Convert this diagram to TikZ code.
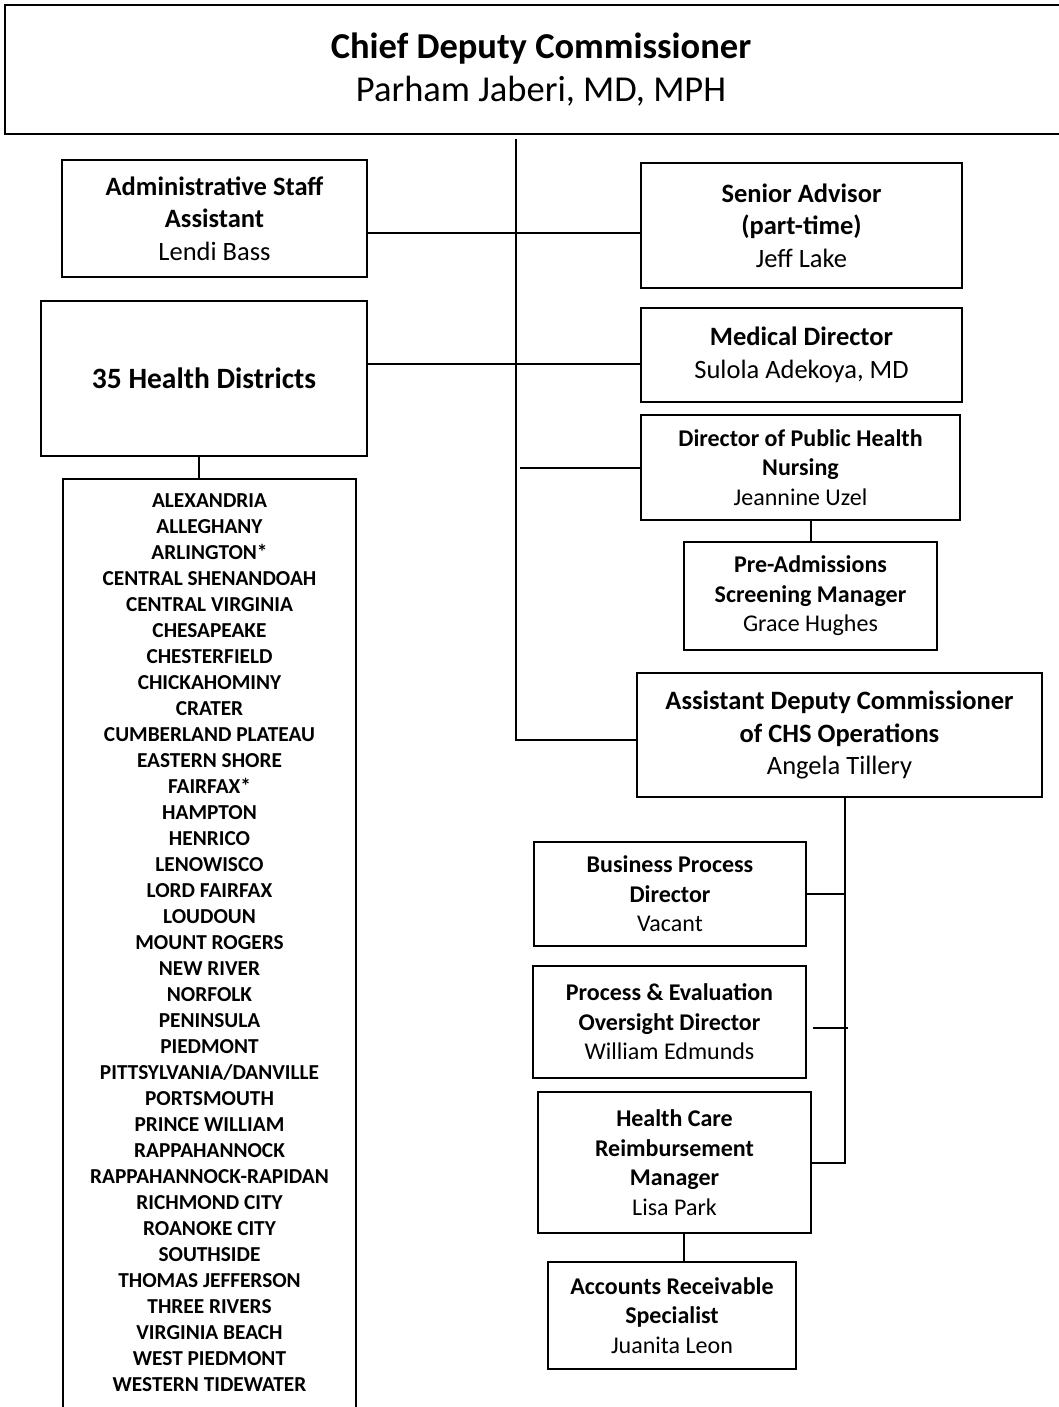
\documentclass[tikz,border=0pt]{standalone}
\usepackage{fontspec}
\setmainfont{Carlito}
\newcommand\FTitle{\fontsize{36.5}{43}\selectfont}
\newcommand\FBox{\fontsize{26.5}{32.5}\selectfont}
\newcommand\FSm{\fontsize{24}{29.5}\selectfont}
\newcommand\FHD{\fontsize{29.5}{36}\selectfont}
\newcommand\FList{\fontsize{21.3}{26}\selectfont}
\begin{document}
\begin{tikzpicture}[x=1pt,y=-1pt,
  box/.style={draw, line width=2.2pt, inner sep=0pt, align=center},
  conn/.style={line width=2pt}]
\useasboundingbox (0,0) rectangle (1059,1407);

\node[box, minimum width=1072pt, minimum height=129pt, font=\FTitle] (top) at (541,69.5)
  {\textbf{Chief Deputy Commissioner}\\Parham Jaberi, MD, MPH};

\node[box, minimum width=305pt, minimum height=117pt, font=\FBox] (admin) at (214.5,218.5)
  {\textbf{Administrative Staff}\\\textbf{Assistant}\\Lendi Bass};
\node[box, minimum width=321pt, minimum height=125pt, font=\FBox] (senior) at (801.5,225.5)
  {\textbf{Senior Advisor}\\\textbf{(part-time)}\\Jeff Lake};
\node[box, minimum width=326pt, minimum height=155pt, font=\FHD] (hd) at (204,378.5)
  {\textbf{35 Health Districts}};
\node[box, minimum width=321pt, minimum height=94pt, font=\FBox] (md) at (801.5,355)
  {\textbf{Medical Director}\\Sulola Adekoya, MD};
\node[box, minimum width=319pt, minimum height=105pt, font=\FSm] (dphn) at (800.5,467.5)
  {\textbf{Director of Public Health}\\\textbf{Nursing}\\Jeannine Uzel};
\node[box, minimum width=253pt, minimum height=108pt, font=\FSm] (pasm) at (810.5,596)
  {\textbf{Pre-Admissions}\\\textbf{Screening Manager}\\Grace Hughes};
\node[box, minimum width=405pt, minimum height=124pt, font=\FBox] (adc) at (839.5,735)
  {\textbf{Assistant Deputy Commissioner}\\\textbf{of CHS Operations}\\Angela Tillery};
\node[box, minimum width=272pt, minimum height=104pt, font=\FSm] (bpd) at (670,894)
  {\textbf{Business Process}\\\textbf{Director}\\Vacant};
\node[box, minimum width=273pt, minimum height=112pt, font=\FSm] (peod) at (669.5,1022)
  {\textbf{Process \& Evaluation}\\\textbf{Oversight Director}\\William Edmunds};
\node[box, minimum width=273pt, minimum height=141pt, font=\FSm] (hcrm) at (674.5,1162.5)
  {\textbf{Health Care}\\\textbf{Reimbursement}\\\textbf{Manager}\\Lisa Park};
\node[box, minimum width=248pt, minimum height=107pt, font=\FSm] (ars) at (672,1315.5)
  {\textbf{Accounts Receivable}\\\textbf{Specialist}\\Juanita Leon};

\node[box, anchor=north, minimum width=293pt, inner ysep=15pt, font=\FList\bfseries] (list) at (209.5,478)
  {ALEXANDRIA\\ALLEGHANY\\ARLINGTON*\\CENTRAL SHENANDOAH\\CENTRAL VIRGINIA\\CHESAPEAKE\\CHESTERFIELD\\CHICKAHOMINY\\CRATER\\CUMBERLAND PLATEAU\\EASTERN SHORE\\FAIRFAX*\\HAMPTON\\HENRICO\\LENOWISCO\\LORD FAIRFAX\\LOUDOUN\\MOUNT ROGERS\\NEW RIVER\\NORFOLK\\PENINSULA\\PIEDMONT\\PITTSYLVANIA/DANVILLE\\PORTSMOUTH\\PRINCE WILLIAM\\RAPPAHANNOCK\\RAPPAHANNOCK-RAPIDAN\\RICHMOND CITY\\ROANOKE CITY\\SOUTHSIDE\\THOMAS JEFFERSON\\THREE RIVERS\\VIRGINIA BEACH\\WEST PIEDMONT\\WESTERN TIDEWATER\rule[-30pt]{0pt}{0pt}};

% connectors
\coordinate (t1) at ([xshift=-25pt,yshift=-4pt]top.south);
\draw[conn] (t1) |- ([yshift=-5pt]adc.west);
\coordinate (s1) at ([yshift=-14.5pt]admin.east);
\draw[conn] (s1) -- (s1 -| senior.west);
\coordinate (m1) at ([yshift=14.5pt]hd.east);
\draw[conn] (m1) -- (m1 -| md.west);
\draw[conn] (dphn.west) -- ++(-120,0);
\draw[conn] (pasm.north) -- (pasm.north |- dphn.south);
\coordinate (h1) at ([xshift=-5pt]hd.south);
\draw[conn] (h1) -- (h1 |- list.north);
\coordinate (st) at ([xshift=5.5pt]adc.south);
\draw[conn] (st) |- (hcrm.east);
\draw[conn] (bpd.east) -- (bpd.east -| st);
\coordinate (p1) at ([xshift=6pt,yshift=-6pt]peod.east);
\draw[conn] (p1) -- ([xshift=3pt]p1 -| st);
\coordinate (a1) at ([xshift=12pt]ars.north);
\draw[conn] (a1) -- (a1 |- hcrm.south);
\end{tikzpicture}
\end{document}
